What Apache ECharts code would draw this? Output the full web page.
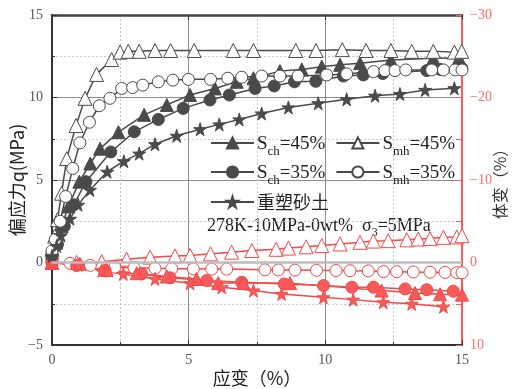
<!DOCTYPE html>
<html><head><meta charset="utf-8">
<script src="https://cdn.jsdelivr.net/npm/echarts@6/dist/echarts.min.js"></script>
<style>html,body{margin:0;padding:0;background:#fff}#c{width:515px;height:389px}</style>
</head><body><div id="c"></div>
<script>
// ---- data: deviatoric stress q (MPa) vs axial strain (%) ----
const sch45_x = [0, 0.15, 0.35, 0.6, 1.0, 1.4, 1.76, 2.43, 3.37, 4.2, 5.05, 5.96, 6.76, 7.37, 8.34, 9.14, 9.87, 10.54, 11.27, 12.4, 13.95, 14.89];
const sch45_q = [0.6, 1.2, 2.2, 3.4, 4.9, 6.0, 6.9, 7.9, 8.95, 9.55, 10.15, 10.55, 10.95, 11.17, 11.6, 11.7, 11.87, 11.98, 12.08, 12.28, 12.38, 12.4];
const sch35_x = [0, 0.2, 0.45, 0.8, 1.24, 2.15, 3.01, 3.89, 4.8, 5.78, 6.49, 7.43, 8.13, 8.87, 9.65, 10.66, 11.39, 12.1, 13.71, 14.2, 14.99];
const sch35_q = [0.5, 1.1, 2.2, 3.5, 4.9, 6.7, 7.92, 8.67, 9.34, 9.85, 10.15, 10.55, 10.7, 10.95, 10.98, 11.3, 11.37, 11.45, 11.63, 11.7, 11.77];
const smh45_x = [0, 0.1, 0.2, 0.35, 0.54, 0.88, 1.21, 1.63, 2.18, 2.49, 2.79, 3.19, 3.77, 4.34, 5.2, 6.63, 7.37, 8.92, 9.66, 10.62, 11.49, 12.4, 13.16, 13.95, 14.72, 14.99];
const smh45_q = [0.8, 1.6, 2.6, 4.2, 6.3, 8.3, 9.95, 11.4, 12.3, 12.75, 12.8, 12.8, 12.85, 12.85, 12.85, 12.85, 12.85, 12.85, 12.85, 12.9, 12.85, 12.85, 12.8, 12.8, 12.75, 12.8];
const smh35_x = [0, 0.12, 0.3, 0.5, 0.76, 1.02, 1.37, 1.73, 2.12, 2.55, 2.95, 3.32, 3.89, 4.42, 4.99, 5.8, 6.43, 6.94, 7.67, 8.34, 9.0, 10.05, 10.78, 11.76, 12.18, 12.55, 12.94, 13.89, 14.32, 14.75, 15.0];
const smh35_q = [0.7, 1.4, 2.5, 4.0, 5.7, 7.25, 8.5, 9.5, 9.95, 10.55, 10.6, 10.75, 10.95, 11.05, 11.1, 11.1, 11.17, 11.23, 11.3, 11.3, 11.3, 11.37, 11.43, 11.57, 11.63, 11.63, 11.67, 11.67, 11.67, 11.67, 11.67];
const rem_x = [0, 0.17, 0.33, 0.66, 0.96, 1.39, 2.02, 2.63, 3.19, 3.77, 4.56, 5.42, 6.12, 6.85, 7.67, 8.65, 9.74, 10.78, 11.82, 12.73, 13.65, 14.72];
const rem_q = [0.4, 1.0, 1.64, 2.65, 3.5, 4.4, 5.5, 6.14, 6.6, 7.17, 7.68, 8.08, 8.37, 8.67, 9.03, 9.4, 9.65, 9.89, 10.11, 10.21, 10.46, 10.56];

// ---- data: volumetric strain (%) vs axial strain (%) ----
const vmh45_x = [0, 0.9, 1.82, 2.73, 3.59, 4.5, 5.05, 5.8, 6.57, 7.31, 8.2, 8.65, 9.3, 9.87, 10.54, 11.27, 11.76, 12.3, 12.98, 13.4, 13.83, 14.32, 14.81, 15.0];
const vmh45_v = [0, 0, -0.1, -0.4, -0.65, -0.8, -0.85, -1.05, -1.25, -1.45, -1.6, -1.75, -1.9, -2.05, -2.25, -2.45, -2.6, -2.65, -2.75, -2.85, -2.9, -3.05, -3.1, -3.25];
const vmh35_x = [0, 0.66, 1.4, 2.3, 3.0, 3.77, 4.38, 5.17, 5.84, 6.39, 7.79, 8.28, 8.89, 9.68, 10.39, 10.9, 11.57, 12.13, 12.61, 13.22, 13.83, 14.38, 14.81, 15.0];
const vmh35_v = [0, 0.1, 0.35, 0.57, 0.65, 0.7, 0.75, 0.77, 0.8, 0.8, 0.89, 0.9, 0.92, 0.95, 0.97, 1.0, 1.02, 1.1, 1.12, 1.15, 1.17, 1.2, 1.22, 1.25];
const vch35_x = [0, 0.9, 1.94, 3.28, 4.32, 5.66, 6.94, 8.5, 9.93, 10.97, 11.76, 12.92, 13.71, 14.68];
const vch35_v = [0, 0.36, 0.97, 1.38, 1.86, 2.19, 2.39, 2.6, 2.8, 3.0, 3.0, 3.2, 3.3, 3.48];
const vch45_x = [0, 1.02, 2.0, 3.1, 4.2, 5.29, 6.08, 7.0, 8.71, 12.06, 13.28, 14.2, 15.0];
const vch45_v = [0, 0.16, 0.9, 1.3, 1.7, 2.0, 2.5, 2.45, 2.5, 3.4, 3.7, 3.85, 3.9];
const vrem_x = [0, 0.96, 1.82, 2.61, 3.77, 5.05, 6.21, 7.37, 8.4, 9.93, 11.02, 12.12, 13.16, 14.32];
const vrem_v = [0, 0.28, 1.0, 1.38, 1.99, 2.51, 3.0, 3.4, 3.81, 4.22, 4.5, 4.82, 5.0, 5.35];

// ---- ticks / labels ----
const xTicks = [0, 5, 10, 15];
const qTicks = [-5, 0, 5, 10, 15];
const vTicks = [-30, -20, -10, 0, 10];
const legendNames = ['Sch45', 'Smh45', 'Sch35', 'Smh35', '重塑砂土'];

const zip = (a, b) => a.map((v, i) => [v, b[i]]);
const STAR = 'path://M50,0 L61,35 L98,35 L68,57 L79,91 L50,70 L21,91 L32,57 L2,35 L39,35 Z';
const DARK = '#4a4a4a', RED = '#f54848';
const SERIF = '"Liberation Serif","Times New Roman",serif';
const CJK = '"Noto Sans CJK SC","Liberation Serif",serif';

function qSeries(name, data, symbol, filled, size) {
  return { name, type: 'line', xAxisIndex: 0, yAxisIndex: 0, data, symbol, symbolSize: size,
    lineStyle: { color: DARK, width: 1.5 },
    itemStyle: { color: filled ? DARK : '#fff', borderColor: DARK, borderWidth: 1 },
    z: 3 };
}
function vSeries(name, data, symbol, filled, size) {
  return { name, type: 'line', xAxisIndex: 0, yAxisIndex: 1, data, symbol, symbolSize: size,
    lineStyle: { color: RED, width: 1.5 },
    itemStyle: { color: filled ? '#f75a5a' : '#fff', borderColor: RED, borderWidth: 1 },
    z: 2 };
}

const legendLabel = {
  Sch45: '{a|S}{b|ch}{a|=45%}', Smh45: '{a|S}{b|mh}{a|=45%}',
  Sch35: '{a|S}{b|ch}{a|=35%}', Smh35: '{a|S}{b|mh}{a|=35%}', '重塑砂土': '{c|重塑砂土}'
};
const rich = {
  a: { fontFamily: SERIF, fontSize: 19, color: '#222', lineHeight: 22, verticalAlign: 'bottom' },
  b: { fontFamily: SERIF, fontSize: 13, color: '#222', lineHeight: 13, verticalAlign: 'bottom', padding: [0, 0, -4, 0] },
  c: { fontFamily: CJK, fontSize: 18, color: '#222' }
};
function legendCfg(data, top) {
  return { data, left: 205, top, orient: 'horizontal', itemWidth: 43, itemHeight: 14, itemGap: 10,
    formatter: n => legendLabel[n], textStyle: { rich, padding: [0, 0, 0, -2] } };
}

const chart = echarts.init(document.getElementById('c'), null, { renderer: 'canvas' });
chart.setOption({
  animation: false,
  backgroundColor: '#fff',
  grid: { left: 52, right: 53, top: 15, bottom: 44, containLabel: false, outerBoundsMode: 'none' },
  legend: [legendCfg(['Sch45', 'Smh45'], 130), legendCfg(['Sch35', 'Smh35'], 159), legendCfg(['重塑砂土'], 188)],
  graphic: [{
    type: 'text', left: 207, top: 217,
    style: { text: '{a|278K-10MPa-0wt%  σ}{s|3}{a|=5MPa}', rich: {
      a: { fontFamily: SERIF, fontSize: 18, fill: '#222', lineHeight: 22, verticalAlign: 'bottom' },
      s: { fontFamily: SERIF, fontSize: 12, fill: '#222', lineHeight: 12, verticalAlign: 'bottom', padding: [0, 0, -4, 0] } } }
  }],
  xAxis: [{
    type: 'value', min: 0, max: 15, interval: 5, position: 'bottom',
    name: '应变（%）', nameLocation: 'middle', nameGap: 24, nameMoveOverlap: false,
    nameTextStyle: { fontFamily: CJK, fontSize: 18, color: '#222' },
    axisLine: { show: true, onZero: false, lineStyle: { color: '#333', width: 2 } },
    axisTick: { show: true, inside: true, length: 5, lineStyle: { color: '#333' } },
    minorTick: { show: true, splitNumber: 2, length: 3, lineStyle: { color: '#333' } },
    axisLabel: { fontFamily: SERIF, fontSize: 14, color: '#555', margin: 8,
      formatter: v => xTicks.includes(v) ? String(v) : '' },
    splitLine: { show: true, lineStyle: { color: '#8c8c8c', width: 1 } },
    minorSplitLine: { show: true, lineStyle: { color: '#c8c8c8', type: [2, 2], width: 1 } }
  }, {
    type: 'value', min: 0, max: 15, interval: 5, position: 'top',
    axisLine: { show: true, onZero: false, lineStyle: { color: '#444', width: 2.5 } },
    axisTick: { show: true, inside: true, length: 5, lineStyle: { color: '#333' } },
    axisLabel: { show: false }, splitLine: { show: false }
  }],
  yAxis: [{
    type: 'value', min: -5, max: 15, interval: 5, position: 'left',
    name: '偏应力q(MPa)', nameLocation: 'middle', nameGap: 26, nameRotate: 90, nameMoveOverlap: false,
    nameTextStyle: { fontFamily: CJK, fontSize: 18, color: '#222' },
    axisLine: { show: true, onZero: false, lineStyle: { color: '#333', width: 2 } },
    axisTick: { show: true, inside: true, length: 5, lineStyle: { color: '#333' } },
    minorTick: { show: true, splitNumber: 2, length: 3, lineStyle: { color: '#333' } },
    axisLabel: { fontFamily: SERIF, fontSize: 14, color: '#555', margin: 9,
      formatter: v => qTicks.includes(v) ? (v < 0 ? '\u2212' + (-v) : String(v)) : '' },
    splitLine: { show: true, lineStyle: { color: '#8c8c8c', width: 1 } },
    minorSplitLine: { show: true, lineStyle: { color: '#c8c8c8', type: [2, 2], width: 1 } }
  }, {
    type: 'value', min: -30, max: 10, interval: 10, position: 'right', inverse: true,
    name: '体变（%）', nameLocation: 'middle', nameGap: 30, nameRotate: 90, nameMoveOverlap: false,
    nameTextStyle: { fontFamily: CJK, fontSize: 16, color: '#333' },
    axisLine: { show: true, onZero: false, lineStyle: { color: '#ff5a5a', width: 2 } },
    axisTick: { show: true, inside: true, length: 6, lineStyle: { color: '#ff5a5a' } },
    minorTick: { show: true, splitNumber: 2, length: 6, lineStyle: { color: '#ff5a5a' } },
    axisLabel: { fontFamily: SERIF, fontSize: 14, color: '#ff6b6b', margin: 8,
      formatter: v => vTicks.includes(v) ? (v < 0 ? '\u2212' + (-v) : String(v)) : '' },
    splitLine: { show: false }
  }],
  series: [
    qSeries('Sch45', zip(sch45_x, sch45_q), 'triangle', true, 13),
    qSeries('Smh45', zip(smh45_x, smh45_q), 'triangle', false, 14),
    qSeries('Sch35', zip(sch35_x, sch35_q), 'circle', true, 12),
    qSeries('Smh35', zip(smh35_x, smh35_q), 'circle', false, 12),
    qSeries('重塑砂土', zip(rem_x, rem_q), STAR, true, 13),
    vSeries('v_mh45', zip(vmh45_x, vmh45_v), 'triangle', false, 14),
    vSeries('v_mh35', zip(vmh35_x, vmh35_v), 'circle', false, 12),
    vSeries('v_ch35', zip(vch35_x, vch35_v), 'circle', true, 12),
    vSeries('v_ch45', zip(vch45_x, vch45_v), 'triangle', true, 13),
    vSeries('v_rem', zip(vrem_x, vrem_v), STAR, true, 13),
    { name: 'zero', type: 'line', xAxisIndex: 0, yAxisIndex: 0, data: [], silent: true,
      markLine: { silent: true, symbol: 'none', label: { show: false },
        lineStyle: { color: '#bdbdbd', width: 2.5, type: 'solid' }, data: [{ yAxis: 0 }] }, z: 1 }
  ]
});
</script></body></html>
